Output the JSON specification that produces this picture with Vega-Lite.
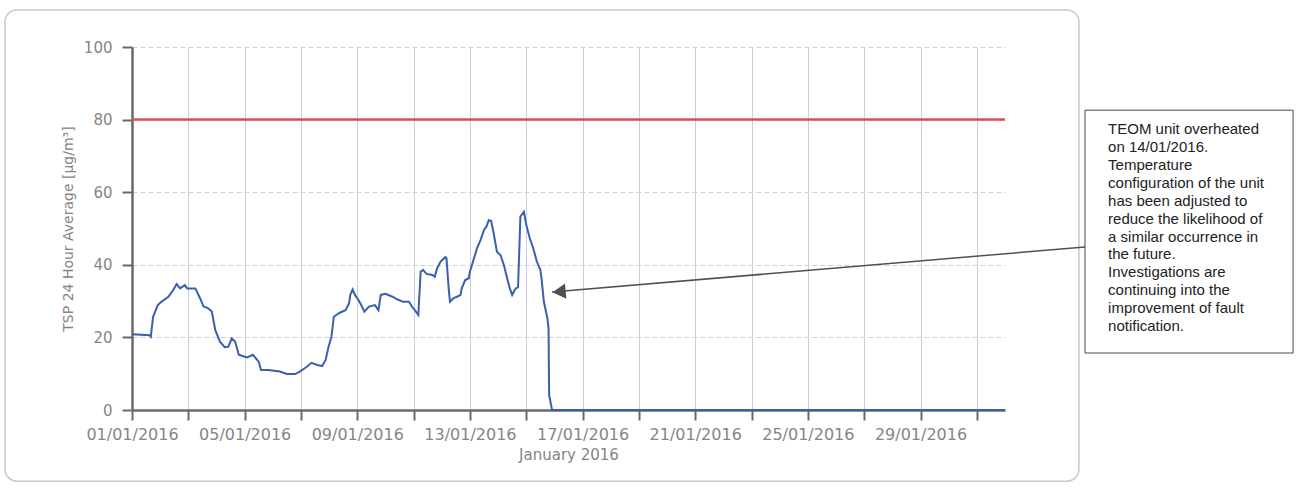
{
  "$schema": "https://vega.github.io/schema/vega-lite/v6.json",
  "width": 873,
  "height": 363,
  "autosize": {"type": "none"},
  "padding": {"left": 132, "top": 47, "right": 292, "bottom": 78},
  "background": "white",
  "config": {"view": {"stroke": null}, "font": "DejaVu Sans"},
  "datasets": {
    "tsp": [
      {"t": "2016-01-01T00:30", "v": 20.9},
      {"t": "2016-01-01T15:00", "v": 20.6},
      {"t": "2016-01-01T16:00", "v": 20.2},
      {"t": "2016-01-01T18:00", "v": 25.7},
      {"t": "2016-01-01T22:00", "v": 28.9},
      {"t": "2016-01-02T01:00", "v": 29.8},
      {"t": "2016-01-02T07:00", "v": 31.2},
      {"t": "2016-01-02T11:00", "v": 33.0},
      {"t": "2016-01-02T14:00", "v": 34.7},
      {"t": "2016-01-02T17:00", "v": 33.5},
      {"t": "2016-01-02T21:00", "v": 34.4},
      {"t": "2016-01-02T23:00", "v": 33.5},
      {"t": "2016-01-03T06:00", "v": 33.5},
      {"t": "2016-01-03T10:00", "v": 30.8},
      {"t": "2016-01-03T13:00", "v": 28.5},
      {"t": "2016-01-03T17:00", "v": 28.0},
      {"t": "2016-01-03T20:00", "v": 27.1},
      {"t": "2016-01-03T23:00", "v": 22.0},
      {"t": "2016-01-04T03:00", "v": 18.8},
      {"t": "2016-01-04T07:00", "v": 17.3},
      {"t": "2016-01-04T10:00", "v": 17.4},
      {"t": "2016-01-04T13:00", "v": 19.7},
      {"t": "2016-01-04T16:00", "v": 18.8},
      {"t": "2016-01-04T19:00", "v": 15.2},
      {"t": "2016-01-05T02:00", "v": 14.5},
      {"t": "2016-01-05T07:00", "v": 15.2},
      {"t": "2016-01-05T12:00", "v": 13.3},
      {"t": "2016-01-05T14:00", "v": 11.0},
      {"t": "2016-01-05T20:00", "v": 11.0},
      {"t": "2016-01-06T06:00", "v": 10.6},
      {"t": "2016-01-06T12:00", "v": 9.9},
      {"t": "2016-01-06T19:00", "v": 9.9},
      {"t": "2016-01-06T23:00", "v": 10.6},
      {"t": "2016-01-07T05:00", "v": 11.9},
      {"t": "2016-01-07T09:00", "v": 13.0},
      {"t": "2016-01-07T14:00", "v": 12.4},
      {"t": "2016-01-07T18:00", "v": 12.1},
      {"t": "2016-01-07T21:00", "v": 13.8},
      {"t": "2016-01-07T23:30", "v": 17.4},
      {"t": "2016-01-08T02:00", "v": 20.2},
      {"t": "2016-01-08T04:00", "v": 25.7},
      {"t": "2016-01-08T09:00", "v": 26.8},
      {"t": "2016-01-08T14:00", "v": 27.5},
      {"t": "2016-01-08T17:00", "v": 29.4},
      {"t": "2016-01-08T18:00", "v": 31.7},
      {"t": "2016-01-08T20:00", "v": 33.2},
      {"t": "2016-01-08T22:00", "v": 31.7},
      {"t": "2016-01-09T01:00", "v": 30.3},
      {"t": "2016-01-09T04:00", "v": 28.5},
      {"t": "2016-01-09T06:00", "v": 27.1},
      {"t": "2016-01-09T10:00", "v": 28.5},
      {"t": "2016-01-09T15:00", "v": 28.9},
      {"t": "2016-01-09T18:00", "v": 27.5},
      {"t": "2016-01-09T20:00", "v": 31.7},
      {"t": "2016-01-10T00:00", "v": 32.0},
      {"t": "2016-01-10T06:00", "v": 31.2},
      {"t": "2016-01-10T10:00", "v": 30.5},
      {"t": "2016-01-10T15:00", "v": 29.8},
      {"t": "2016-01-10T20:00", "v": 29.8},
      {"t": "2016-01-10T23:00", "v": 28.3},
      {"t": "2016-01-11T01:00", "v": 27.5},
      {"t": "2016-01-11T04:00", "v": 26.2},
      {"t": "2016-01-11T06:00", "v": 38.1},
      {"t": "2016-01-11T08:00", "v": 38.6},
      {"t": "2016-01-11T11:00", "v": 37.5},
      {"t": "2016-01-11T16:00", "v": 37.2},
      {"t": "2016-01-11T18:00", "v": 36.7},
      {"t": "2016-01-11T20:00", "v": 39.0},
      {"t": "2016-01-11T23:00", "v": 40.9},
      {"t": "2016-01-12T03:00", "v": 42.1},
      {"t": "2016-01-12T04:00", "v": 41.8},
      {"t": "2016-01-12T06:00", "v": 33.0},
      {"t": "2016-01-12T07:00", "v": 29.8},
      {"t": "2016-01-12T10:00", "v": 30.8},
      {"t": "2016-01-12T13:00", "v": 31.2},
      {"t": "2016-01-12T16:00", "v": 31.7},
      {"t": "2016-01-12T17:00", "v": 33.5},
      {"t": "2016-01-12T20:00", "v": 35.8},
      {"t": "2016-01-12T23:00", "v": 36.3},
      {"t": "2016-01-13T00:00", "v": 38.1},
      {"t": "2016-01-13T03:00", "v": 41.3},
      {"t": "2016-01-13T06:00", "v": 44.5},
      {"t": "2016-01-13T09:00", "v": 46.8},
      {"t": "2016-01-13T12:00", "v": 49.6},
      {"t": "2016-01-13T14:00", "v": 50.5},
      {"t": "2016-01-13T16:00", "v": 52.3},
      {"t": "2016-01-13T18:00", "v": 52.1},
      {"t": "2016-01-13T20:00", "v": 49.1},
      {"t": "2016-01-13T23:00", "v": 43.6},
      {"t": "2016-01-14T02:00", "v": 42.7},
      {"t": "2016-01-14T05:00", "v": 39.9},
      {"t": "2016-01-14T07:00", "v": 37.2},
      {"t": "2016-01-14T10:00", "v": 33.5},
      {"t": "2016-01-14T12:00", "v": 31.7},
      {"t": "2016-01-14T15:00", "v": 33.5},
      {"t": "2016-01-14T17:00", "v": 33.8},
      {"t": "2016-01-14T19:00", "v": 53.3},
      {"t": "2016-01-14T22:00", "v": 54.6},
      {"t": "2016-01-15T00:00", "v": 51.0},
      {"t": "2016-01-15T03:00", "v": 47.3},
      {"t": "2016-01-15T06:00", "v": 44.5},
      {"t": "2016-01-15T09:00", "v": 40.9},
      {"t": "2016-01-15T12:00", "v": 38.6},
      {"t": "2016-01-15T13:00", "v": 36.3},
      {"t": "2016-01-15T15:00", "v": 29.8},
      {"t": "2016-01-15T18:00", "v": 25.3},
      {"t": "2016-01-15T19:00", "v": 22.5},
      {"t": "2016-01-15T19:30", "v": 4.1},
      {"t": "2016-01-15T22:00", "v": 0},
      {"t": "2016-02-01T00:00", "v": 0}
    ],
    "frame": [{"x1": "2015-12-27T11:45", "x2": "2016-02-03T15:00", "y1": 110.2, "y2": -19.6}],
    "limit": [{"limit": 80}],
    "note": [{"x1": "2016-02-03T20:10", "x2": "2016-02-11T05:30", "y1": 82.6, "y2": 15.7}],
    "arrow": [
      {"t": "2016-01-15T22:00", "v": 32.5},
      {"t": "2016-02-03T20:10", "v": 44.9}
    ],
    "arrowhead": [{"t": "2016-01-16T04:00", "v": 32.6}],
    "notetext": [{"t": "2016-02-04T15:50", "v": 79.3, "label": "TEOM unit overheated\non 14/01/2016.\nTemperature\nconfiguration of the unit\nhas been adjusted to\nreduce the likelihood of\na similar occurrence in\nthe future.\nInvestigations are\ncontinuing into the\nimprovement of fault\nnotification."}]
  },
  "layer": [
    {
      "data": {"name": "frame"},
      "mark": {"type": "rect", "fillOpacity": 0, "stroke": "#c9c9c9", "strokeWidth": 1.5, "cornerRadius": 12},
      "encoding": {
        "x": {
          "field": "x1", "type": "temporal",
          "scale": {"domain": [{"year": 2016, "month": 1, "date": 1}, {"year": 2016, "month": 2, "date": 1}], "nice": false},
          "axis": {
            "title": "January 2016",
            "values": [
              {"year": 2016, "month": 1, "date": 1}, {"year": 2016, "month": 1, "date": 2}, {"year": 2016, "month": 1, "date": 3}, {"year": 2016, "month": 1, "date": 4},
              {"year": 2016, "month": 1, "date": 5}, {"year": 2016, "month": 1, "date": 6}, {"year": 2016, "month": 1, "date": 7}, {"year": 2016, "month": 1, "date": 8},
              {"year": 2016, "month": 1, "date": 9}, {"year": 2016, "month": 1, "date": 10}, {"year": 2016, "month": 1, "date": 11}, {"year": 2016, "month": 1, "date": 12},
              {"year": 2016, "month": 1, "date": 13}, {"year": 2016, "month": 1, "date": 14}, {"year": 2016, "month": 1, "date": 15}, {"year": 2016, "month": 1, "date": 16},
              {"year": 2016, "month": 1, "date": 17}, {"year": 2016, "month": 1, "date": 18}, {"year": 2016, "month": 1, "date": 19}, {"year": 2016, "month": 1, "date": 20},
              {"year": 2016, "month": 1, "date": 21}, {"year": 2016, "month": 1, "date": 22}, {"year": 2016, "month": 1, "date": 23}, {"year": 2016, "month": 1, "date": 24},
              {"year": 2016, "month": 1, "date": 25}, {"year": 2016, "month": 1, "date": 26}, {"year": 2016, "month": 1, "date": 27}, {"year": 2016, "month": 1, "date": 28},
              {"year": 2016, "month": 1, "date": 29}, {"year": 2016, "month": 1, "date": 30}, {"year": 2016, "month": 1, "date": 31}
            ],
            "labelExpr": "(date(datum.value) - 1) % 4 === 0 ? timeFormat(datum.value, '%d/%m/%Y') : ''",
            "labelFont": "DejaVu Sans", "labelFontSize": 16, "labelColor": "#858585", "labelPadding": 6, "labelFlush": false, "labelOverlap": false,
            "tickSize": 10, "tickColor": "#6a6a6a", "tickWidth": 2,
            "domainColor": "#6a6a6a", "domainWidth": 2.5,
            "grid": true, "gridColor": "#ccceE0", "gridWidth": 1,
            "titleFont": "DejaVu Sans", "titleFontSize": 15, "titleFontWeight": "normal", "titleColor": "#858585", "titlePadding": 5
          }
        },
        "x2": {"field": "x2"},
        "y": {
          "field": "y1", "type": "quantitative",
          "scale": {"domain": [0, 100], "nice": false},
          "axis": {
            "title": "TSP 24 Hour Average [µg/m³]",
            "values": [0, 10, 20, 30, 40, 50, 60, 70, 80, 90, 100],
            "labelExpr": "datum.value % 20 === 0 ? datum.value : ''",
            "labelFont": "DejaVu Sans", "labelFontSize": 15, "labelColor": "#858585", "labelPadding": 10,
            "tickSize": 10, "tickColor": "#6a6a6a", "tickWidth": 2,
            "domainColor": "#6a6a6a", "domainWidth": 2.5,
            "grid": true, "gridColor": "#cdd0e0", "gridDash": [5, 3], "gridWidth": 1,
            "gridOpacity": {"condition": {"test": "datum.value % 20 === 0 && datum.value > 0", "value": 1}, "value": 0},
            "titleFont": "DejaVu Sans", "titleFontSize": 14, "titleFontWeight": "normal", "titleColor": "#858585", "titlePadding": 8
          }
        },
        "y2": {"field": "y2"}
      }
    },
    {
      "data": {"name": "limit"},
      "mark": {"type": "rule", "color": "#d5505b", "strokeWidth": 2.5},
      "encoding": {"y": {"field": "limit", "type": "quantitative"}}
    },
    {
      "data": {"name": "tsp"},
      "mark": {"type": "line", "color": "#3a60ab", "strokeWidth": 2},
      "encoding": {
        "x": {"field": "t", "type": "temporal"},
        "y": {"field": "v", "type": "quantitative"}
      }
    },
    {
      "data": {"name": "note"},
      "mark": {"type": "rect", "fill": "white", "stroke": "#4a4a4a", "strokeWidth": 1},
      "encoding": {
        "x": {"field": "x1", "type": "temporal"},
        "x2": {"field": "x2"},
        "y": {"field": "y1", "type": "quantitative"},
        "y2": {"field": "y2"}
      }
    },
    {
      "data": {"name": "arrow"},
      "mark": {"type": "line", "color": "#505050", "strokeWidth": 1.5},
      "encoding": {
        "x": {"field": "t", "type": "temporal"},
        "y": {"field": "v", "type": "quantitative"}
      }
    },
    {
      "data": {"name": "arrowhead"},
      "mark": {"type": "point", "shape": "triangle-left", "filled": true, "color": "#505050", "size": 230, "opacity": 1, "angle": -5},
      "encoding": {
        "x": {"field": "t", "type": "temporal"},
        "y": {"field": "v", "type": "quantitative"}
      }
    },
    {
      "data": {"name": "notetext"},
      "mark": {"type": "text", "align": "left", "baseline": "top", "lineBreak": "\n", "font": "Liberation Sans", "fontSize": 15, "lineHeight": 17.9, "color": "#222222"},
      "encoding": {
        "x": {"field": "t", "type": "temporal"},
        "y": {"field": "v", "type": "quantitative"},
        "text": {"field": "label"}
      }
    }
  ]
}
